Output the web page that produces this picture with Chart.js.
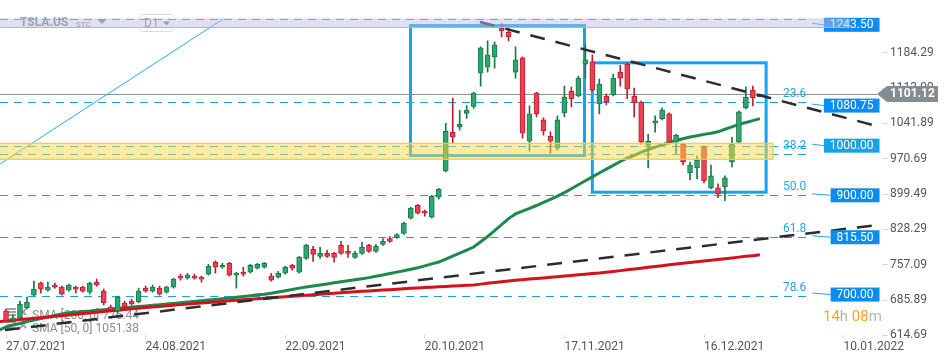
<!DOCTYPE html>
<html>
<head>
<meta charset="utf-8">
<title>TSLA.US D1</title>
<script src="https://cdn.jsdelivr.net/npm/chart.js@4.4.1/dist/chart.umd.min.js"></script>
<style>
  html, body { margin: 0; padding: 0; background: #fff; }
  #wrap { width: 950px; height: 361px; }
</style>
</head>
<body>
<div id="wrap"><canvas id="chart" width="950" height="361"></canvas></div>
<script>
// daily candles, 27.07.2021 -> end of Dec 2021 (index 0 = 27.07.2021)
const opens = [664,646,650,670,696,720,706,716,712,706,
  712,712,702,722,704,672,664,680,684,682,
  710,704,710,702,712,734,730,734,732,738,
  762,752,760,736,742,742,750,752,734,732,
  740,756,742,770,788,774,780,780,796,784,
  772,780,796,784,798,810,812,820,851,877,
  865,853,893,946,1024,1034,1062,1076,1143,1155,
  1176,1234,1226,1145,1174,1006,1103,1049,1016,992,
  1063,1107,1097,1161,1166,1081,1097,1099,1145,1161,
  1097,1085,998,1043,1051,1061,1004,1000,942,952,
  994,912,912,914,964,1004,1073,1109,1095];
const highs = [668,656,684,692,724,722,722,720,714,718,
  714,714,722,728,708,676,694,684,688,710,
  714,716,714,714,730,738,740,738,734,758,
  765,760,762,742,752,758,760,762,740,744,
  754,758,774,798,794,792,786,782,804,796,
  784,802,798,798,810,814,820,843,873,879,
  867,897,911,1042,1093,1068,1078,1105,1196,1208,
  1206,1243,1234,1196,1176,1077,1105,1053,1025,1057,
  1117,1115,1137,1200,1180,1131,1101,1141,1159,1164,
  1113,1087,1020,1057,1073,1063,1020,1002,964,976,
  996,958,920,936,1014,1067,1115,1117,1101.12];
const lows = [642,642,648,668,694,700,704,710,696,704,
  700,702,698,714,676,662,660,666,676,680,
  702,702,696,700,710,726,728,728,722,736,
  740,750,734,710,734,740,748,750,724,730,
  738,746,740,768,764,770,772,762,778,772,
  770,778,782,782,796,802,810,818,849,859,
  855,851,889,944,1002,1028,1052,1072,1117,1145,
  1153,1216,1208,1133,1012,986,1055,1018,982,988,
  1055,1075,1095,1133,1107,1061,1079,1097,1117,1091,
  1055,1000,952,1024,1049,1000,980,958,928,930,
  922,910,892,886,954,1002,1071,1077,1095];
const closes = [644,650,678,682,708,708,712,712,698,716,
  708,704,720,716,680,666,692,672,678,704,
  704,712,698,712,728,730,736,730,728,754,
  752,756,736,740,738,756,758,760,726,740,
  752,750,772,796,778,780,774,772,780,780,
  780,792,784,794,804,804,818,841,871,861,
  861,895,909,1026,1014,1040,1068,1103,1194,1180,
  1200,1228,1216,1170,1022,1061,1061,1027,1006,1049,
  1095,1091,1133,1170,1109,1121,1085,1133,1133,1111,
  1083,1004,1006,1047,1069,1004,1018,964,958,968,
  926,936,900,932,1000,1065,1095,1093,1101.12];

// moving averages, first value belongs to index -1
const smaStart = -1;
const sma50 = [625.5,631.6,635.6,638.6,642.7,645.7,648.7,651.7,654.7,657.8,
  660.2,661.4,662.8,663.8,665.2,666.4,667.8,669.0,670.3,671.7,
  672.9,674.1,675.5,676.7,677.9,679.1,680.3,681.8,683.0,684.4,
  685.8,687.2,688.8,690.0,691.6,693.2,694.8,696.5,697.7,699.7,
  702.3,704.7,707.3,709.9,712.2,714.2,716.2,718.4,720.6,722.6,
  724.7,726.7,728.9,731.1,733.9,736.5,739.4,742.2,745.0,747.8,
  750.9,754.7,758.7,762.5,768.6,774.6,780.7,786.7,792.8,803.4,
  813.9,826.0,838.1,850.0,859.5,865.1,870.6,876.4,882.6,888.9,
  895.2,902.4,910.2,918.3,926.2,934.0,941.9,949.6,957.2,965.1,
  971.7,977.6,983.4,989.2,993.9,998.7,1003.6,1007.8,1011.0,1014.5,
  1017.1,1019.7,1022.1,1024.9,1030.0,1035.0,1040.0,1043.6,1047.5,1051.4];
const sma200 = [642.3,643.7,645.1,646.5,647.7,649.1,650.5,651.9,653.1,654.5,
  655.9,657.4,658.8,660.0,661.4,662.8,664.2,665.4,666.8,668.2,
  669.6,670.9,671.9,673.1,674.3,675.5,676.7,677.7,678.9,680.1,
  681.2,682.2,683.4,684.4,685.4,686.4,687.4,688.6,689.6,690.6,
  691.6,692.8,693.8,694.8,695.8,696.8,697.8,698.7,699.7,700.7,
  701.5,702.5,703.5,704.3,705.1,706.1,706.9,707.7,708.5,709.5,
  710.3,711.1,711.9,712.8,713.4,714.2,714.8,715.6,716.2,718.0,
  719.6,721.2,722.7,724.3,725.7,726.9,728.1,729.3,730.5,731.9,
  733.1,734.3,735.5,736.8,738.0,739.2,740.2,741.8,743.6,745.2,
  746.8,748.5,750.1,751.9,753.5,755.1,756.9,758.5,760.1,761.5,
  763.1,764.6,766.2,767.6,769.2,770.8,772.4,774.0,775.4,777.0];

const dateLabels = ['27.07.2021', '24.08.2021', '22.09.2021', '20.10.2021', '17.11.2021', '16.12.2021', '10.01.2022'];
const dateTickIndex = [0, 20, 40, 60, 80, 100, 120];
const priceTicks = [614.69, 685.89, 757.09, 828.29, 899.49, 970.69, 1041.89, 1113.09, 1184.29];

// drawings on the chart (index / price units)
const fibLevels = [1251.6, 1085.0, 979.6, 898.4, 812.9, 694.0];
const fibNames = ['', '23.6', '38.2', '50.0', '61.8', '78.6'];
const levelLines = [996.9];
const priceLevels = [1243.50, 1080.75, 1000.00, 900.00, 815.50, 700.00];
const lastPrice = 1101.12;
const trendUpper = [[67.9, 1246.1], [124.2, 1038.6]];
const trendLower = [[-0.14, 625.5], [124.9, 837.1]];
const trendBlue = [[-0.86, 960.0], [31.1, 1252.2]];
const boxFrom = [57.95, 84.0];
const boxTo = [82.88, 108.9];
const boxTop = [1239.1, 1163.9];
const boxBottom = [977.1, 903.2];
const zoneLow = 969.5, zoneHigh = 1001.7, zoneEnd = 109.9;
const resLow = 1235.5, resHigh = 1253.6, resEnd = 120.9;
const fibEnd = 115.2, fibLabelAt = 111.3;

const GREEN = '#2fa66f', GREEN_EDGE = '#1b774a';
const RED = '#f03e52', RED_EDGE = '#b32233';

const up = opens.map((o, i) => closes[i] >= o);
const pts = arr => arr.map(p => ({ x: p[0], y: p[1] }));

function hline(ctx, x1, x2, yy) {
  ctx.beginPath();
  ctx.moveTo(x1, yy);
  ctx.lineTo(x2, yy);
  ctx.stroke();
}

function tri(ctx, x0, y0, w, h) {
  ctx.beginPath();
  ctx.moveTo(x0, y0);
  ctx.lineTo(x0 + w, y0);
  ctx.lineTo(x0 + w / 2, y0 + h);
  ctx.closePath();
  ctx.fill();
}

const drawings = {
  id: 'drawings',
  beforeDatasetsDraw(chart) {
    const { ctx, chartArea: a, scales: { x, y } } = chart;
    const py = v => Math.round(y.getPixelForValue(v)) + 0.5;
    ctx.save();
    ctx.beginPath();
    ctx.rect(a.left, a.top, a.width, a.height);
    ctx.clip();

    // fibonacci / level lines
    const fr = x.getPixelForValue(fibEnd);
    ctx.lineWidth = 1;
    ctx.strokeStyle = '#1b9fe8';
    ctx.setLineDash([8, 6]);
    fibLevels.forEach(v => hline(ctx, a.left, fr, py(v)));
    levelLines.forEach(v => hline(ctx, a.left, fr, py(v)));
    ctx.setLineDash([]);

    // current price line
    ctx.strokeStyle = '#8d9397';
    hline(ctx, a.left, a.right - 5, py(lastPrice));

    // rectangles
    ctx.strokeStyle = '#12a5ec';
    ctx.lineWidth = 3;
    boxFrom.forEach((f, i) => {
      const x1 = x.getPixelForValue(f), x2 = x.getPixelForValue(boxTo[i]);
      const y1 = y.getPixelForValue(boxTop[i]), y2 = y.getPixelForValue(boxBottom[i]);
      ctx.strokeRect(x1, y1, x2 - x1, y2 - y1);
    });

    // indicator legend (under the lines)
    ctx.fillStyle = '#8c8c8c';
    ctx.font = '12px Roboto';
    ctx.textBaseline = 'middle';
    ctx.fillText('SMA [200, 0] 776.44', 32, 316);
    ctx.fillText('SMA [50, 0] 1051.38', 32, 329);
    ctx.strokeStyle = '#a4a4a4';
    ctx.lineWidth = 2;
    [309, 322].forEach(t => {
      [0, 3, 6].forEach(d => hline(ctx, 7, 16, t + d));
      ctx.beginPath();
      ctx.moveTo(20, t); ctx.lineTo(26, t + 6);
      ctx.moveTo(26, t); ctx.lineTo(20, t + 6);
      ctx.stroke();
    });
    ctx.restore();
  },
  afterDatasetsDraw(chart) {
    const { ctx, chartArea: a, scales: { x, y } } = chart;
    ctx.save();

    // support zone
    const zr = x.getPixelForValue(zoneEnd);
    const zt = y.getPixelForValue(zoneHigh), zb = y.getPixelForValue(zoneLow);
    ctx.fillStyle = 'rgba(250, 216, 70, 0.5)';
    ctx.fillRect(a.left, zt, zr - a.left, zb - zt);
    ctx.strokeStyle = '#f2cd3a';
    ctx.lineWidth = 1.2;
    ctx.strokeRect(a.left - 2, zt, zr - a.left + 2, zb - zt);

    // fibo labels
    ctx.font = '12px Roboto';
    ctx.textBaseline = 'middle';
    ctx.fillStyle = '#25a4ea';
    const fx = x.getPixelForValue(fibLabelAt);
    fibLevels.forEach((v, i) => {
      if (fibNames[i]) ctx.fillText(fibNames[i], fx, y.getPixelForValue(v) - 8);
    });

    // price level tags
    const fr = x.getPixelForValue(fibEnd);
    priceLevels.forEach((v, i) => {
      const t = v.toFixed(2);
      const cy = y.getPixelForValue(v) + 1.5;
      const w = ctx.measureText(t).width + 12;
      const right = a.right - 2.5;
      const left = right - w;
      ctx.strokeStyle = '#25a4ea';
      ctx.lineWidth = 1;
      ctx.beginPath();
      ctx.moveTo(fr + 2, cy - 1.5);
      ctx.lineTo(left, cy);
      ctx.stroke();
      ctx.fillStyle = v === 1000 ? '#17a3e8' : '#0a8cf3';
      ctx.fillRect(left, cy - 7, w, 14);
      ctx.fillStyle = '#fff';
      ctx.fillText(t, left + 6, cy + 0.5);
    });

    // resistance band
    const rr = x.getPixelForValue(resEnd);
    const rt = y.getPixelForValue(resHigh), rb = y.getPixelForValue(resLow);
    ctx.fillStyle = 'rgba(188, 190, 228, 0.48)';
    ctx.fillRect(a.left, rt, rr - a.left, rb - rt);
    ctx.strokeStyle = '#b2b4ca';
    ctx.lineWidth = 1;
    hline(ctx, a.left, rr, Math.round(rb) + 0.5);

    // last price tag
    const ly = y.getPixelForValue(lastPrice);
    const tip = a.right - 5;
    ctx.fillStyle = '#868c90';
    ctx.beginPath();
    ctx.moveTo(tip, ly);
    ctx.lineTo(tip + 10, ly - 8);
    ctx.lineTo(938, ly - 8);
    ctx.lineTo(938, ly + 8);
    ctx.lineTo(tip + 10, ly + 8);
    ctx.closePath();
    ctx.fill();
    ctx.fillStyle = '#fff';
    ctx.font = 'bold 12px Roboto';
    ctx.fillText(lastPrice.toFixed(2), tip + 13, ly + 0.5);

    // candle countdown
    ctx.font = '15px Roboto';
    let cx = 823;
    [['14', '#f7a325'], ['h', '#b3b3b3'], [' 08', '#f7a325'], ['m', '#b3b3b3']].forEach(p => {
      ctx.fillStyle = p[1];
      ctx.fillText(p[0], cx, 317);
      cx += ctx.measureText(p[0]).width;
    });

    // instrument header
    ctx.fillStyle = '#9ca1b4';
    ctx.font = 'bold 12px Roboto';
    ctx.fillText('TSLA.US', 20, 23);
    ctx.font = '8px Roboto';
    ctx.fillText('STC', 76, 24.5);
    tri(ctx, 98, 20, 8, 4);
    ctx.strokeStyle = '#d8d9e2';
    ctx.beginPath();
    ctx.roundRect(139.5, 14.5, 34, 17, 3);
    ctx.stroke();
    ctx.font = '12px Roboto';
    ctx.fillText('D1', 144, 23.5);
    tri(ctx, 163, 21.5, 7, 4);

    ctx.restore();
  }
};

const idx = opens.map((_, i) => i);

new Chart(document.getElementById('chart'), {
  type: 'bar',
  data: {
    datasets: [
      {
        type: 'line', data: pts(trendUpper), borderColor: '#2a2e33', borderWidth: 2.5,
        borderDash: [15, 11], pointRadius: 0, order: 0
      },
      {
        type: 'line', data: pts(trendLower), borderColor: '#2a2e33', borderWidth: 2.5,
        borderDash: [15, 11], pointRadius: 0, order: 0
      },
      {
        type: 'line', data: pts(trendBlue), borderColor: '#2aa8ec', borderWidth: 1,
        pointRadius: 0, order: 0
      },
      {
        label: 'wicks',
        data: idx.map(i => ({ x: i, y: [lows[i], highs[i]] })),
        backgroundColor: idx.map(i => up[i] ? GREEN_EDGE : RED_EDGE),
        barThickness: 1, grouped: false, order: 2
      },
      {
        label: 'bodies',
        data: idx.map(i => ({ x: i, y: [opens[i], closes[i]] })),
        backgroundColor: idx.map(i => up[i] ? GREEN : RED),
        borderColor: idx.map(i => up[i] ? GREEN_EDGE : RED_EDGE),
        borderWidth: 1, borderSkipped: false, barThickness: 5, minBarLength: 2,
        grouped: false, order: 1
      },
      {
        type: 'line', label: 'SMA 200',
        data: sma200.map((v, i) => ({ x: i + smaStart, y: v })),
        borderColor: '#d2131b', borderWidth: 3, pointRadius: 0, order: 3
      },
      {
        type: 'line', label: 'SMA 50',
        data: sma50.map((v, i) => ({ x: i + smaStart, y: v })),
        borderColor: '#1b8a4c', borderWidth: 3, pointRadius: 0, order: 3
      }
    ]
  },
  options: {
    responsive: false,
    animation: false,
    devicePixelRatio: 1,
    layout: { padding: 0 },
    plugins: { legend: { display: false }, tooltip: { enabled: false } },
    scales: {
      x: {
        type: 'linear', min: -0.86, max: 125.5, offset: false,
        afterBuildTicks: s => { s.ticks = dateTickIndex.map(v => ({ value: v })); },
        afterFit: s => { s.height = 25.6; s.paddingLeft = 0; s.paddingRight = 0; },
        ticks: {
          align: 'start', autoSkip: false, maxRotation: 0, padding: 1,
          color: '#555', font: { family: 'Roboto', size: 12 },
          callback: v => dateLabels[dateTickIndex.indexOf(v)]
        },
        grid: { offset: false, drawOnChartArea: false, tickLength: 3, color: '#d6d6d6' },
        border: { display: false }
      },
      y: {
        position: 'right', min: 614.69, max: 1290.48,
        afterBuildTicks: s => { s.ticks = priceTicks.map(v => ({ value: v })); },
        afterFit: s => { s.width = 68; s.paddingTop = 0; s.paddingBottom = 0; },
        ticks: {
          padding: 2, color: '#555', font: { family: 'Roboto', size: 12 },
          callback: v => v.toFixed(2)
        },
        grid: { drawOnChartArea: false, tickLength: 6, color: '#d6d6d6' },
        border: { display: false }
      }
    }
  },
  plugins: [drawings]
});
</script>
</body>
</html>
